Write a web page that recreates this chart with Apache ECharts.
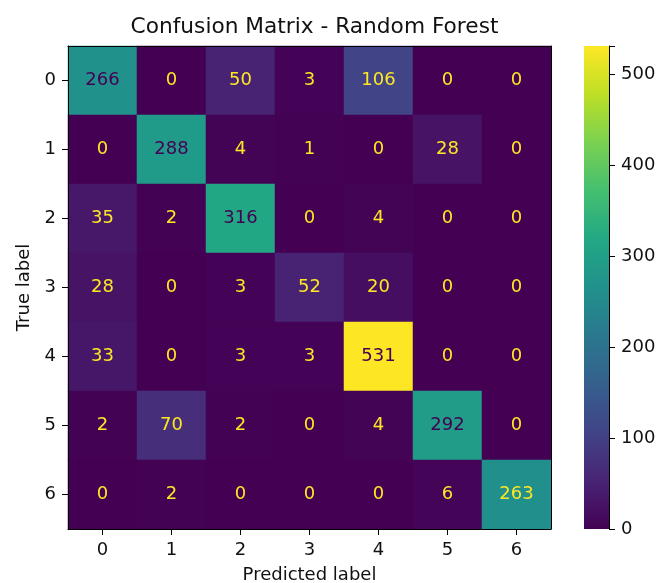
<!DOCTYPE html>
<html>
<head>
<meta charset="utf-8">
<script src="https://cdn.jsdelivr.net/npm/echarts@6/dist/echarts.min.js"></script>
<style>html,body{margin:0;padding:0;background:#fff;}#c{width:656px;height:583px;}</style>
</head>
<body>
<div id="c"></div>
<script>
const predictedLabels = ['0','1','2','3','4','5','6'];
const trueLabels = ['0','1','2','3','4','5','6'];
const matrix = [
  [266, 0, 50, 3, 106, 0, 0],
  [0, 288, 4, 1, 0, 28, 0],
  [35, 2, 316, 0, 4, 0, 0],
  [28, 0, 3, 52, 20, 0, 0],
  [33, 0, 3, 3, 531, 0, 0],
  [2, 70, 2, 0, 4, 292, 0],
  [0, 2, 0, 0, 0, 6, 263]
];
const colorbarTicks = [0, 100, 200, 300, 400, 500];
const titleText = 'Confusion Matrix - Random Forest';

const viridis = ['#440154','#482475','#414487','#355f8d','#2a788e','#21918c','#22a884','#44bf70','#7ad151','#bddf26','#fde725'];
let vmax = 0, vmin = Infinity;
matrix.forEach(r => r.forEach(v => { vmax = Math.max(vmax, v); vmin = Math.min(vmin, v); }));
const thresh = (vmax + vmin) / 2;
const data = [];
matrix.forEach((row, i) => row.forEach((v, j) => data.push({
  value: [j, i, v],
  label: {color: v > thresh ? '#440154' : '#fde725'}
})));

const FONT = 'DejaVu Sans';
const FS = 18;
const TXT = '#111';
const chart = echarts.init(document.getElementById('c'), null, {renderer: 'canvas'});
chart.setOption({
  backgroundColor: '#fff',
  animation: false,
  textStyle: {fontFamily: FONT},
  title: {
    text: titleText, left: 309.5, top: 11, textAlign: 'center',
    textStyle: {fontFamily: FONT, fontSize: 21.7, fontWeight: 'normal', color: TXT}
  },
  grid: [
    {left: 68, top: 46, width: 483, height: 483, containLabel: false, outerBoundsMode: 'none'},
    {left: 584, top: 46, width: 25, height: 483, containLabel: false, outerBoundsMode: 'none'}
  ],
  xAxis: [
    {type: 'category', data: predictedLabels, gridIndex: 0, position: 'bottom', z: 10,
     name: 'Predicted label', nameLocation: 'middle', nameGap: 37,
     nameTextStyle: {fontFamily: FONT, fontSize: FS, color: TXT},
     axisLine: {show: true, lineStyle: {color: '#000', width: 1}},
     axisTick: {show: true, alignWithLabel: true, length: 6, lineStyle: {color: '#000'}},
     axisLabel: {fontFamily: FONT, fontSize: FS, color: TXT, margin: 12},
     splitLine: {show: false}},
    {type: 'category', data: predictedLabels, gridIndex: 0, position: 'top', z: 10,
     axisLine: {show: true, lineStyle: {color: '#000', width: 1}},
     axisTick: {show: false}, axisLabel: {show: false}},
    {type: 'category', data: ['c'], gridIndex: 1, show: false}
  ],
  yAxis: [
    {type: 'category', data: trueLabels, inverse: true, gridIndex: 0, position: 'left', z: 10,
     name: 'True label', nameLocation: 'middle', nameGap: 33,
     nameTextStyle: {fontFamily: FONT, fontSize: FS, color: TXT},
     axisLine: {show: true, lineStyle: {color: '#000', width: 1}},
     axisTick: {show: true, alignWithLabel: true, length: 6, lineStyle: {color: '#000'}},
     axisLabel: {fontFamily: FONT, fontSize: FS, color: TXT, margin: 12},
     splitLine: {show: false}},
    {type: 'category', data: trueLabels, inverse: true, gridIndex: 0, position: 'right', z: 10,
     axisLine: {show: true, lineStyle: {color: '#000', width: 1}},
     axisTick: {show: false}, axisLabel: {show: false}},
    {type: 'value', gridIndex: 1, position: 'right', min: 0, max: vmax, interval: 100, z: 10,
     axisLine: {show: true, lineStyle: {color: '#000', width: 1}},
     axisTick: {show: true, length: 6, lineStyle: {color: '#000'}},
     axisLabel: {fontFamily: FONT, fontSize: FS, color: TXT, margin: 12,
       formatter: v => colorbarTicks.includes(v) ? String(v) : ''},
     splitLine: {show: false}}
  ],
  visualMap: {
    show: false, type: 'continuous', min: vmin, max: vmax, seriesIndex: 0, dimension: 2,
    inRange: {color: viridis}
  },
  series: [
    {type: 'heatmap', xAxisIndex: 0, yAxisIndex: 0, data: data,
     itemStyle: {borderWidth: 0},
     label: {show: true, fontFamily: FONT, fontSize: FS,
       formatter: p => String(p.value[2])},
     emphasis: {disabled: true}},
    {type: 'bar', xAxisIndex: 2, yAxisIndex: 2, data: [vmax], barWidth: '100%',
     silent: true,
     itemStyle: {color: new echarts.graphic.LinearGradient(0, 1, 0, 0,
       viridis.map((c, i) => ({offset: i / (viridis.length - 1), color: c})))}},
    {type: 'line', xAxisIndex: 1, yAxisIndex: 1, data: [], silent: true},
    {type: 'line', xAxisIndex: 2, yAxisIndex: 2, data: [], silent: true}
  ]
});
</script>
</body>
</html>
